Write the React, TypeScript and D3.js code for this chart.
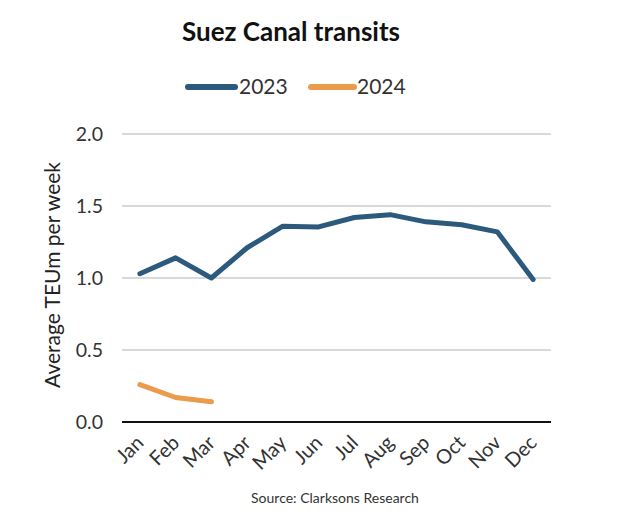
import * as d3 from 'd3';

const months = ['Jan', 'Feb', 'Mar', 'Apr', 'May', 'Jun', 'Jul', 'Aug', 'Sep', 'Oct', 'Nov', 'Dec'];
const values2023 = [1.03, 1.14, 1.0, 1.21, 1.36, 1.355, 1.42, 1.44, 1.39, 1.37, 1.32, 0.99];
const values2024 = [0.26, 0.17, 0.14];
const yTicks = [0, 0.5, 1.0, 1.5, 2.0];

const W = 640;
const H = 519;
const MARGIN = { top: 134, right: 89, bottom: 97, left: 122 };
const FONT = 'Lato, "Open Sans", sans-serif';
const BLUE = '#2c5a7c';
const ORANGE = '#ec9a4c';

export default function App() {
  const innerW = W - MARGIN.left - MARGIN.right;
  const innerH = H - MARGIN.top - MARGIN.bottom;

  const x = d3.scaleBand<string>().domain(months).range([0, innerW]);
  const y = d3.scaleLinear().domain([0, 2]).range([innerH, 0]);
  const cx = (m: string) => (x(m) ?? 0) + x.bandwidth() / 2;

  const line = d3.line<number>().x((_, i) => cx(months[i])).y(d => y(d));

  return (
    <svg width={W} height={H} style={{ display: 'block', position: 'absolute', left: 0, top: 0, background: '#fff' }}>
      <text x={291} y={41} textAnchor="middle" fontFamily={FONT} fontWeight={700} fontSize={26} fill="#111">
        Suez Canal transits
      </text>

      {/* Legend */}
      <g fontFamily={FONT} fontSize={21} fill="#333">
        <line x1={188} x2={235} y1={87} y2={87} stroke={BLUE} strokeWidth={6} strokeLinecap="round" />
        <text x={239} y={94}>2023</text>
        <line x1={311} x2={354} y1={87} y2={87} stroke={ORANGE} strokeWidth={6} strokeLinecap="round" />
        <text x={357} y={94}>2024</text>
      </g>

      <g transform={`translate(${MARGIN.left},${MARGIN.top})`}>
        {yTicks.filter(t => t > 0).map(t => (
          <line key={t} x1={0} x2={innerW} y1={y(t)} y2={y(t)} stroke="#d9d9d9" strokeWidth={2} />
        ))}
        <line x1={0} x2={innerW} y1={y(0)} y2={y(0)} stroke="#111" strokeWidth={2} />

        {yTicks.map(t => (
          <text key={t} x={-19} y={y(t) + 7} textAnchor="end" fontFamily={FONT} fontSize={19.5} fill="#333">
            {d3.format('.1f')(t)}
          </text>
        ))}

        {months.map(m => (
          <text key={m} transform={`translate(${cx(m) + 5},${innerH + 22}) rotate(-45)`} textAnchor="end"
            fontFamily={FONT} fontSize={20} fill="#333">
            {m}
          </text>
        ))}

        <path d={line(values2023) ?? ''} fill="none" stroke={BLUE} strokeWidth={5} strokeLinejoin="round" strokeLinecap="round" />
        <path d={line(values2024) ?? ''} fill="none" stroke={ORANGE} strokeWidth={5} strokeLinejoin="round" strokeLinecap="round" />
      </g>

      <text transform={`translate(60,${MARGIN.top + innerH / 2 - 3}) rotate(-90)`} textAnchor="middle"
        fontFamily={FONT} fontSize={21} fill="#222">
        Average TEUm per week
      </text>

      <text x={335} y={503} textAnchor="middle" fontFamily={FONT} fontSize={14} fill="#333">
        Source: Clarksons Research
      </text>
    </svg>
  );
}
